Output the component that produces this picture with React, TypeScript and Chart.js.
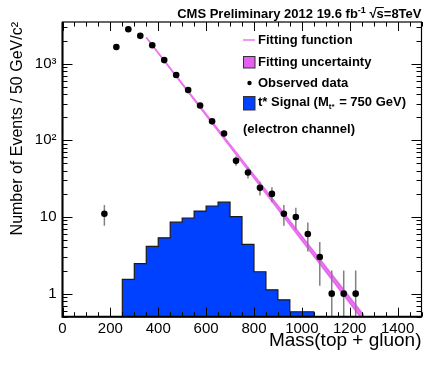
import React, { useEffect, useRef } from 'react';
import { Chart, registerables } from 'chart.js';

Chart.register(...registerables);

const FONT = '"Liberation Sans", Arial, Helvetica, sans-serif';

// Observed data (bin centres, events per 50 GeV)
const dataMass = [175, 225, 275, 325, 375, 425, 475, 525, 575, 625, 675, 725, 775, 825, 875, 925, 975, 1025, 1075, 1125, 1175, 1225];
const dataCounts = [11, 1650, 2810, 2310, 1740, 1114, 711, 454, 285, 177, 123, 54, 38, 24, 20, 11, 10, 6, 3, 1, 1, 1];

// t* signal histogram (lower bin edges, 50 GeV bins)
const signalBinLow = [250, 300, 350, 400, 450, 500, 550, 600, 650, 700, 750, 800, 850, 900, 950, 1000];
const signalCounts = [1.0, 1.53, 2.47, 4.14, 5.35, 8.55, 9.7, 11.95, 13.9, 15.6, 10.1, 4.4, 1.93, 1.12, 0.83, 0.58];
const signalBinWidth = 50;

// Fitting function and its uncertainty band (end points)
const fitMass = [350, 1260];
const fitValue = [2200, 0.47];
const fitUpper = [2230, 0.53];
const fitLower = [2170, 0.42];

// Axis ticks
const xTickValues = [0, 200, 400, 600, 800, 1000, 1200, 1400];
const yTickValues = [1, 10, 100, 1000];
const yTickLabels = ['1', '10', '10²', '10³'];

const BLUE = '#0040ff';
const BAND = 'rgb(229,96,240)';
const FITLINE = 'rgb(236,118,240)';

const DATA_INDEX = 0;

const drawPlugin = {
  id: 'rootStyle',
  beforeDatasetDraw(chart: any, args: any) {
    if (args.index !== DATA_INDEX) return;
    const { ctx, chartArea } = chart;
    const xs = chart.scales.x;
    const ys = chart.scales.y;
    ctx.save();
    ctx.strokeStyle = '#808080';
    ctx.lineWidth = 1.5;
    dataMass.forEach((m, i) => {
      const n = dataCounts[i];
      const e = Math.sqrt(n);
      const px = xs.getPixelForValue(m);
      const hi = ys.getPixelForValue(n + e);
      const loV = n - e;
      let lo = loV > 0 ? ys.getPixelForValue(loV) : chartArea.bottom;
      if (lo > chartArea.bottom) lo = chartArea.bottom;
      ctx.beginPath();
      ctx.moveTo(px, Math.max(hi, chartArea.top));
      ctx.lineTo(px, lo);
      ctx.stroke();
    });
    ctx.restore();
  },
  afterDraw(chart: any) {
    const { ctx, chartArea } = chart;
    const { left, right, top, bottom } = chartArea;
    const xs = chart.scales.x;
    const ys = chart.scales.y;
    ctx.save();
    // frame
    ctx.strokeStyle = '#000';
    ctx.lineWidth = 1.2;
    ctx.strokeRect(left, top, right - left, bottom - top);
    ctx.lineWidth = 2;
    ctx.beginPath();
    ctx.moveTo(left, top);
    ctx.lineTo(left, bottom);
    ctx.lineTo(right, bottom);
    ctx.stroke();
    // x ticks (inside, bottom and top)
    ctx.lineWidth = 1;
    for (let v = xs.min; v <= xs.max + 0.01; v += 50) {
      const px = Math.round(xs.getPixelForValue(v)) + 0.5;
      const len = v % 200 === 0 ? 9 : 4.5;
      ctx.beginPath();
      ctx.moveTo(px, bottom);
      ctx.lineTo(px, bottom - len);
      ctx.moveTo(px, top);
      ctx.lineTo(px, top + len);
      ctx.stroke();
    }
    // y ticks (log)
    const d0 = Math.floor(Math.log10(ys.min));
    const d1 = Math.ceil(Math.log10(ys.max));
    for (let d = d0; d <= d1; d++) {
      for (let k = 1; k <= 9; k++) {
        const v = k * Math.pow(10, d);
        if (v < ys.min || v > ys.max) continue;
        const py = Math.round(ys.getPixelForValue(v)) + 0.5;
        const len = k === 1 ? 10 : 5;
        ctx.beginPath();
        ctx.moveTo(left, py);
        ctx.lineTo(left + len, py);
        ctx.moveTo(right, py);
        ctx.lineTo(right - len, py);
        ctx.stroke();
      }
    }

    // Title
    ctx.fillStyle = '#000';
    ctx.textBaseline = 'alphabetic';
    ctx.textAlign = 'left';
    const tf = `bold 13px ${FONT}`;
    const sf = `bold 9px ${FONT}`;
    const p1 = 'CMS Preliminary 2012 19.6 fb';
    const p2 = '-1';
    const p3a = ' √';
    const p3b = 's';
    const p3c = '=8TeV';
    ctx.font = tf;
    const w1 = ctx.measureText(p1).width;
    const w3a = ctx.measureText(p3a).width;
    const w3b = ctx.measureText(p3b).width;
    const w3c = ctx.measureText(p3c).width;
    ctx.font = sf;
    const w2 = ctx.measureText(p2).width;
    const total = w1 + w2 + w3a + w3b + w3c;
    let tx = right - total;
    const ty = 18;
    ctx.font = tf;
    ctx.fillText(p1, tx, ty);
    tx += w1;
    ctx.font = sf;
    ctx.fillText(p2, tx, ty - 5);
    tx += w2;
    ctx.font = tf;
    ctx.fillText(p3a, tx, ty);
    tx += w3a;
    ctx.fillText(p3b, tx, ty);
    ctx.lineWidth = 1;
    ctx.beginPath();
    ctx.moveTo(tx - 1, ty - 10.5);
    ctx.lineTo(tx + w3b, ty - 10.5);
    ctx.stroke();
    tx += w3b;
    ctx.fillText(p3c, tx, ty);

    // Legend
    const lf = `bold 13px ${FONT}`;
    ctx.font = lf;
    ctx.textBaseline = 'middle';
    const lx = 243;
    const textX = 258;
    // Fitting function
    ctx.strokeStyle = FITLINE;
    ctx.lineWidth = 1.5;
    ctx.beginPath();
    ctx.moveTo(lx, 40);
    ctx.lineTo(lx + 12, 40);
    ctx.stroke();
    ctx.fillStyle = '#000';
    ctx.fillText('Fitting function', textX, 40);
    // Fitting uncertainty
    ctx.fillStyle = BAND;
    ctx.fillRect(lx, 56, 12, 12);
    ctx.strokeStyle = '#333';
    ctx.lineWidth = 1;
    ctx.strokeRect(lx + 0.5, 56.5, 11.5, 11.5);
    ctx.fillStyle = '#000';
    ctx.fillText('Fitting uncertainty', textX, 62);
    // Observed data
    ctx.beginPath();
    ctx.arc(lx + 6.5, 83, 2.2, 0, Math.PI * 2);
    ctx.fill();
    ctx.fillText('Observed data', textX, 83);
    // Signal
    ctx.fillStyle = BLUE;
    ctx.fillRect(lx, 96, 12, 14);
    ctx.strokeStyle = '#333';
    ctx.strokeRect(lx + 0.5, 96.5, 11.5, 13.5);
    ctx.fillStyle = '#000';
    const s1 = 't* Signal (M';
    ctx.fillText(s1, textX, 102);
    let sx = textX + ctx.measureText(s1).width;
    ctx.font = `bold 8px ${FONT}`;
    ctx.fillText('t*', sx, 107);
    sx += ctx.measureText('t*').width + 1;
    ctx.font = lf;
    ctx.fillText(' = 750 GeV)', sx, 102);
    // channel
    ctx.fillText('(electron channel)', lx, 129);
    ctx.restore();
  },
};

export default function App() {
  const ref = useRef<HTMLCanvasElement>(null);
  useEffect(() => {
    const last = signalBinLow.length - 1;
    const floorV = 1e-3;
    const histPts = [
      { x: signalBinLow[0], y: floorV },
      ...signalBinLow.map((x, i) => ({ x, y: signalCounts[i] })),
      { x: signalBinLow[last] + signalBinWidth, y: signalCounts[last] },
      { x: signalBinLow[last] + signalBinWidth, y: floorV },
    ];
    const chart = new Chart(ref.current as HTMLCanvasElement, {
      type: 'line',
      data: {
        datasets: [
          {
            label: 'Observed data',
            data: dataMass.map((x, i) => ({ x, y: dataCounts[i] })),
            showLine: false,
            pointRadius: 3.3,
            pointBackgroundColor: '#000',
            pointBorderColor: '#000',
            pointBorderWidth: 0,
            order: 0,
          },
          {
            label: 'Fitting function',
            data: fitMass.map((x, i) => ({ x, y: fitValue[i] })),
            borderColor: FITLINE,
            borderWidth: 1.6,
            pointRadius: 0,
            fill: false,
            order: 1,
          },
          {
            label: 'Fitting uncertainty',
            data: fitMass.map((x, i) => ({ x, y: fitUpper[i] })),
            borderColor: BAND,
            borderWidth: 0.5,
            backgroundColor: BAND,
            pointRadius: 0,
            fill: '+1',
            order: 2,
          },
          {
            label: 'band low',
            data: fitMass.map((x, i) => ({ x, y: fitLower[i] })),
            borderColor: BAND,
            borderWidth: 0.5,
            pointRadius: 0,
            fill: false,
            order: 3,
          },
          {
            label: 't* Signal',
            data: histPts,
            stepped: 'after',
            borderColor: '#1a1a1a',
            borderWidth: 1.2,
            backgroundColor: BLUE,
            pointRadius: 0,
            fill: 'start',
            order: 4,
          },
        ],
      } as any,
      options: {
        animation: false,
        responsive: false,
        devicePixelRatio: 1,
        layout: { padding: { top: 22, right: 11.5, left: 0, bottom: 0 } },
        plugins: {
          legend: { display: false },
          tooltip: { enabled: false },
        },
        scales: {
          x: {
            type: 'linear',
            min: 0,
            max: 1500,
            afterFit: (s: any) => {
              s.height = 48.3;
            },
            afterBuildTicks: (s: any) => {
              s.ticks = xTickValues.map((v) => ({ value: v }));
            },
            grid: { display: false, drawTicks: false },
            border: { display: false },
            ticks: {
              autoSkip: false,
              maxRotation: 0,
              padding: 3,
              color: '#000',
              font: { family: FONT, size: 15 },
              callback: (v: any) => String(v),
            },
            title: {
              display: true,
              text: 'Mass(top + gluon)',
              align: 'end',
              color: '#000',
              font: { family: FONT, size: 19 },
              padding: { top: 0, bottom: 13 },
            },
          },
          y: {
            type: 'logarithmic',
            min: 0.5,
            max: 3500,
            afterFit: (s: any) => {
              s.width = 62.5;
            },
            afterBuildTicks: (s: any) => {
              s.ticks = yTickValues.map((v) => ({ value: v }));
            },
            grid: { display: false, drawTicks: false },
            border: { display: false },
            ticks: {
              autoSkip: false,
              padding: 6,
              color: '#000',
              font: { family: FONT, size: 15 },
              callback: (v: any) => {
                const i = yTickValues.indexOf(Number(v));
                return i >= 0 ? yTickLabels[i] : '';
              },
            },
            title: {
              display: true,
              text: 'Number of Events / 50 GeV/c²',
              align: 'end',
              color: '#000',
              font: { family: FONT, size: 16 },
              padding: { top: 8, bottom: 0 },
            },
          },
        },
      } as any,
      plugins: [drawPlugin],
    });
    return () => chart.destroy();
  }, []);
  return (
    <div style={{ position: 'fixed', left: 0, top: 0, width: 433, height: 365, background: '#fff' }}>
      <canvas ref={ref} width={433} height={365} style={{ display: 'block', width: 433, height: 365 }} />
    </div>
  );
}
